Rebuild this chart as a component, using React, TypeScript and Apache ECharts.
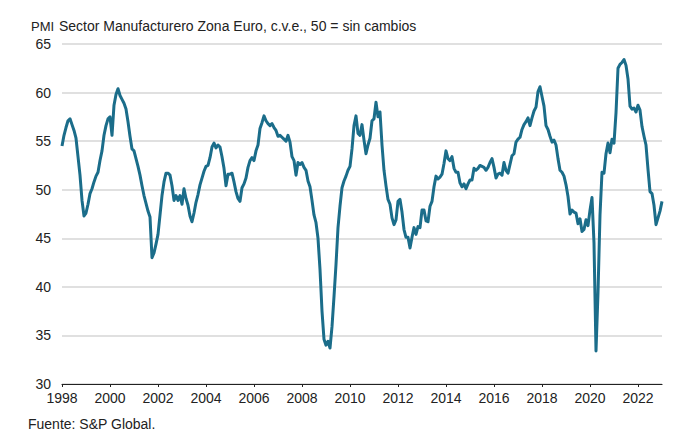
import React, { useEffect, useRef } from "react";
import * as echarts from "echarts";

const START_YEAR = 1998;
const Y1998 = [54.5, 55.6, 56.4, 57.1, 57.3, 56.7, 56.1, 55.3, 53.4, 51.5, 48.9, 47.3];
const Y1999 = [47.6, 48.5, 49.6, 50.1, 50.8, 51.4, 51.8, 53.0, 54.0, 55.6, 56.6, 57.3];
const Y2000 = [57.5, 55.6, 58.7, 59.8, 60.4, 59.7, 59.3, 58.9, 58.3, 57.0, 55.5, 54.2];
const Y2001 = [54.0, 53.2, 52.4, 51.5, 50.4, 49.4, 48.6, 47.8, 47.2, 43.0, 43.5, 44.4];
const Y2002 = [45.4, 47.4, 49.4, 50.8, 51.7, 51.7, 51.5, 50.4, 48.9, 49.4, 48.9, 49.4];
const Y2003 = [48.5, 50.1, 49.1, 48.4, 47.3, 46.7, 47.6, 48.7, 49.5, 50.5, 51.2, 51.9];
const Y2004 = [52.4, 52.5, 53.3, 54.4, 54.8, 54.3, 54.6, 54.4, 53.4, 52.2, 50.4, 51.6];
const Y2005 = [51.6, 51.7, 50.8, 49.8, 49.1, 48.8, 50.2, 50.6, 51.2, 52.3, 53.0, 53.3];
const Y2006 = [53.0, 54.0, 54.6, 56.3, 56.9, 57.6, 57.1, 56.8, 56.6, 56.8, 56.4, 56.1];
const Y2007 = [55.5, 55.6, 55.4, 55.2, 55.0, 55.6, 54.9, 53.4, 53.0, 51.5, 52.8, 52.6];
const Y2008 = [52.8, 52.3, 52.0, 50.9, 50.3, 48.9, 47.4, 46.6, 45.0, 41.8, 37.5, 34.6];
const Y2009 = [34.0, 34.4, 33.7, 35.9, 39.0, 42.3, 46.1, 48.3, 50.2, 50.9, 51.4, 52.0];
const Y2010 = [52.4, 54.2, 56.6, 57.6, 55.8, 55.6, 56.7, 55.1, 53.7, 54.6, 55.3, 57.1];
const Y2011 = [57.3, 59.0, 57.5, 58.0, 54.6, 52.0, 50.4, 49.0, 48.5, 47.1, 46.4, 46.9];
const Y2012 = [48.8, 49.0, 47.7, 45.9, 45.1, 45.1, 44.0, 45.1, 46.1, 45.4, 46.2, 46.1];
const Y2013 = [47.9, 47.9, 46.8, 46.7, 48.3, 48.8, 50.3, 51.4, 51.1, 51.3, 51.6, 52.7];
const Y2014 = [54.0, 53.2, 53.0, 53.4, 52.2, 51.8, 51.8, 50.7, 50.3, 50.6, 50.1, 50.6];
const Y2015 = [51.0, 51.0, 52.2, 52.0, 52.2, 52.5, 52.4, 52.3, 52.0, 52.3, 52.8, 53.2];
const Y2016 = [52.3, 51.2, 51.6, 51.7, 51.5, 52.8, 52.0, 51.7, 52.6, 53.5, 53.7, 54.9];
const Y2017 = [55.2, 55.4, 56.2, 56.7, 57.0, 57.4, 56.6, 57.4, 58.1, 58.5, 60.1, 60.6];
const Y2018 = [59.6, 58.6, 56.6, 56.2, 55.5, 54.9, 55.1, 54.6, 53.2, 52.0, 51.8, 51.4];
const Y2019 = [50.5, 49.3, 47.5, 47.9, 47.7, 47.6, 46.5, 47.0, 45.7, 45.9, 46.9, 46.3];
const Y2020 = [47.9, 49.2, 44.5, 33.4, 39.4, 47.4, 51.8, 51.7, 53.7, 54.8, 53.8, 55.2];
const Y2021 = [54.8, 57.9, 62.5, 62.9, 63.1, 63.4, 62.8, 61.4, 58.6, 58.3, 58.4, 58.0];
const Y2022 = [58.7, 58.2, 56.5, 55.5, 54.6, 52.1, 49.8, 49.6, 48.4, 46.4, 47.1, 47.8];
const Y2023 = [48.8];

const VALUES = [
  ...Y1998, ...Y1999, ...Y2000, ...Y2001, ...Y2002, ...Y2003, ...Y2004, ...Y2005,
  ...Y2006, ...Y2007, ...Y2008, ...Y2009, ...Y2010, ...Y2011, ...Y2012, ...Y2013,
  ...Y2014, ...Y2015, ...Y2016, ...Y2017, ...Y2018, ...Y2019, ...Y2020, ...Y2021,
  ...Y2022, ...Y2023,
];

const CATEGORIES: string[] = VALUES.map((_, i) => {
  const y = START_YEAR + Math.floor(i / 12);
  const m = (i % 12) + 1;
  return `${y}-${m < 10 ? "0" + m : m}`;
});

const TITLE_UNIT = "PMI";
const TITLE_TEXT = "Sector Manufacturero Zona Euro, c.v.e., 50 = sin cambios";
const SOURCE_TEXT = "Fuente: S&P Global.";

const FONT = "'Liberation Sans', Arial, sans-serif";
const TEXT_COLOR = "#222222";

export default function App() {
  const ref = useRef<HTMLDivElement>(null);
  useEffect(() => {
    if (!ref.current) return;
    const chart = echarts.init(ref.current, undefined, { renderer: "svg" });
    chart.setOption({
      animation: false,
      backgroundColor: "#ffffff",
      grid: { left: 62, right: 28, top: 44, bottom: 62, containLabel: false },
      xAxis: {
        type: "category",
        data: CATEGORIES,
        boundaryGap: false,
        axisLine: { show: true, lineStyle: { color: "#222", width: 1.2 } },
        axisTick: {
          show: true,
          interval: (i: number) => i % 24 === 0,
          length: 3,
          lineStyle: { color: "#222" },
        },
        axisLabel: {
          interval: (i: number) => i % 24 === 0,
          formatter: (v: string) => v.slice(0, 4),
          color: TEXT_COLOR,
          fontSize: 14,
          fontFamily: FONT,
          margin: 7,
        },
        splitLine: { show: false },
      },
      yAxis: {
        type: "value",
        min: 30,
        max: 65,
        interval: 5,
        axisLine: { show: false },
        axisTick: { show: false },
        axisLabel: { color: TEXT_COLOR, fontSize: 14, fontFamily: FONT, margin: 11 },
        splitLine: { lineStyle: { color: "#d6d6d6", width: 1.5 } },
      },
      series: [
        {
          type: "line",
          data: VALUES,
          showSymbol: false,
          symbol: "none",
          lineStyle: { color: "#1b6d8a", width: 3, join: "round" },
          z: 3,
        },
      ],
      graphic: [
        {
          type: "text",
          x: 31,
          y: 26,
          style: { text: TITLE_UNIT, font: `13px ${FONT}`, fill: TEXT_COLOR, verticalAlign: "middle" },
        },
        {
          type: "text",
          x: 59,
          y: 26,
          style: { text: TITLE_TEXT, font: `14px ${FONT}`, fill: TEXT_COLOR, verticalAlign: "middle" },
        },
        {
          type: "text",
          x: 28,
          y: 424,
          style: { text: SOURCE_TEXT, font: `14px ${FONT}`, fill: TEXT_COLOR, verticalAlign: "middle" },
        },
      ],
    });
    return () => chart.dispose();
  }, []);
  return (
    <div
      ref={ref}
      style={{ position: "fixed", left: 0, top: 0, width: 690, height: 446 }}
    />
  );
}
